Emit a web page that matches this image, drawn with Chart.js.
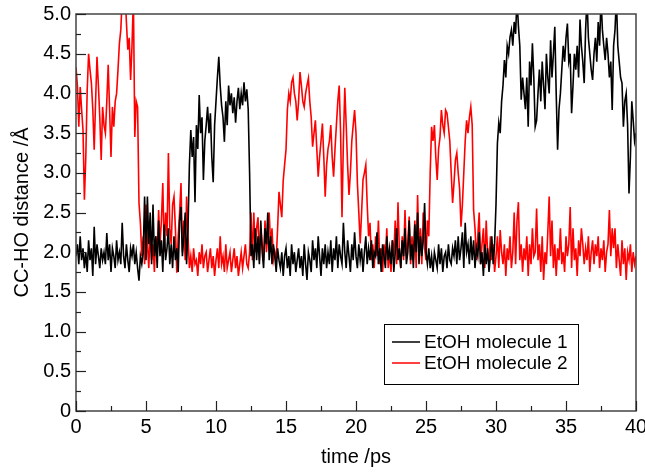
<!DOCTYPE html>
<html>
<head>
<meta charset="utf-8">
<script src="https://cdn.jsdelivr.net/npm/chart.js@4.4.1/dist/chart.umd.min.js"></script>
<style>
  html, body { margin: 0; padding: 0; background: #fff; }
  #wrap { width: 645px; height: 472px; }
</style>
</head>
<body>
<div id="wrap"><canvas id="c" width="645" height="472"></canvas></div>
<script>
// time step 0.1 ps, 0..40 ps
const timeStep = 0.1;
const seriesLabels = ['EtOH molecule 1', 'EtOH molecule 2'];
const seriesColors = ['#000000', '#ff0000'];
const xTicks = [0, 5, 10, 15, 20, 25, 30, 35, 40];
const yTicks = [0, 0.5, 1.0, 1.5, 2.0, 2.5, 3.0, 3.5, 4.0, 4.5, 5.0];

// CC-HO distance, molecule 1 (one row per ps)
const molecule1 = [
  1.95,2.10,1.85,2.20,1.90,2.05,1.80,2.00,1.75,2.15,
  1.90,2.05,1.70,2.32,1.85,2.10,1.95,1.80,2.05,1.90,
  2.00,1.85,2.24,1.90,2.10,1.75,2.05,1.95,1.80,2.15,
  1.90,2.00,1.85,2.37,1.95,1.80,2.10,1.90,1.75,2.05,
  1.95,2.10,1.85,2.00,1.80,1.64,1.95,1.85,2.00,2.70,
  1.90,2.70,2.10,2.50,1.85,2.60,1.95,2.20,1.80,2.40,
  1.95,2.15,1.75,2.35,1.90,2.05,2.30,1.85,2.10,1.80,
  2.20,1.90,2.05,1.75,2.40,2.57,1.95,2.20,2.50,1.85,
  2.30,3.10,3.54,3.20,3.45,2.63,3.60,3.30,3.98,3.50,
  3.70,2.91,3.40,3.60,3.83,3.50,3.75,3.20,2.88,3.60,
  3.90,4.20,4.46,4.10,3.85,3.70,3.39,3.90,3.60,4.10,
  3.85,4.00,3.75,3.95,3.63,3.90,4.07,3.80,4.00,3.85,
  4.14,3.90,4.05,3.80,3.00,1.95,2.10,1.80,2.30,1.90,
  2.20,1.85,2.40,2.00,1.80,2.30,2.10,2.50,1.90,2.20,
  1.85,2.10,1.95,1.75,2.05,1.90,1.80,2.00,1.70,1.95,
  2.05,1.80,1.95,1.70,2.10,1.85,2.00,1.75,1.90,2.05,
  1.80,1.95,1.70,2.10,1.85,1.65,2.00,1.90,1.75,2.15,
  1.90,2.05,1.80,2.20,1.95,1.70,2.05,1.85,2.10,1.80,
  2.00,1.85,2.15,1.75,2.05,1.90,2.20,1.80,2.10,1.95,
  1.85,2.37,2.00,1.80,2.15,1.95,1.75,2.10,1.90,2.25,
  1.95,1.80,2.10,1.90,2.05,1.75,2.00,2.20,1.85,2.05,
  1.90,2.15,1.80,2.00,1.95,2.25,1.85,2.05,1.75,2.10,
  1.95,1.80,2.20,1.90,2.05,1.85,2.15,1.75,2.00,2.30,
  1.90,2.05,1.80,2.15,1.95,2.30,1.85,2.00,2.40,1.90,
  2.10,1.80,2.35,2.00,2.50,1.85,2.20,1.95,2.15,2.62,
  2.00,1.85,2.05,1.80,1.95,1.75,2.00,1.90,1.80,2.10,
  1.85,2.05,1.75,1.95,2.00,1.80,2.10,1.90,1.85,2.05,
  1.95,2.15,1.85,2.20,1.90,2.05,2.25,1.80,2.37,2.00,
  2.10,1.85,2.20,1.90,2.15,1.80,2.05,1.95,2.25,1.85,
  2.00,1.70,2.10,1.85,2.05,1.75,1.95,2.20,1.85,2.10,
  2.60,3.37,3.63,3.50,3.90,4.10,4.42,4.20,4.60,4.50,
  4.71,4.80,4.60,4.90,4.75,5.20,4.85,4.60,3.92,4.20,
  4.00,3.80,4.20,3.58,4.40,4.10,4.63,4.20,3.58,3.66,
  4.00,4.30,3.90,4.40,4.10,3.80,4.50,4.20,4.00,4.67,
  4.20,4.50,4.84,4.00,3.29,3.80,4.00,4.30,4.60,4.40,
  4.70,4.88,4.40,4.50,3.75,4.10,4.50,4.30,4.60,4.20,
  4.93,4.60,4.40,4.13,4.80,5.20,4.70,4.50,4.30,4.17,
  4.50,4.70,4.40,4.90,4.60,5.20,4.80,4.60,4.42,4.70,
  4.50,4.20,4.40,3.79,4.60,4.80,5.20,4.60,4.40,4.20,
  4.13,3.58,3.90,4.00,3.60,2.74,3.20,3.90,3.66,3.40,
  3.50
];

// CC-HO distance, molecule 2 (one row per ps)
const molecule2 = [
  4.33,4.10,3.58,4.08,3.80,3.54,2.66,3.20,4.04,4.50,
  4.30,4.13,3.80,3.29,3.90,4.46,4.10,3.70,3.16,3.83,
  3.60,3.50,3.90,4.36,3.80,3.20,3.83,3.58,3.90,4.00,
  4.30,4.63,4.80,5.20,5.10,5.30,4.90,4.55,4.70,4.17,
  4.60,5.20,3.45,3.90,3.83,2.62,2.37,1.95,2.20,1.85,
  2.60,2.10,1.80,2.30,1.90,2.10,1.75,2.20,1.95,2.53,
  2.10,2.40,2.87,2.00,2.50,2.20,3.25,2.30,2.10,2.60,
  2.70,2.30,1.74,2.20,2.50,2.87,2.00,2.40,1.90,2.70,
  2.20,1.80,1.95,1.75,2.05,1.85,1.90,1.70,2.00,1.85,
  2.10,1.80,1.95,2.00,1.75,1.90,2.05,1.80,1.95,1.70,
  1.90,2.05,1.80,2.20,1.85,1.95,1.75,2.10,1.80,1.90,
  2.00,1.75,1.90,2.05,1.80,1.95,1.70,1.85,2.00,1.80,
  1.95,2.10,1.85,1.80,2.00,2.50,1.90,2.50,2.00,2.30,
  2.44,1.90,2.30,2.10,1.90,2.40,2.00,2.20,2.50,2.10,
  2.30,1.90,2.00,1.90,2.30,2.76,2.60,2.44,2.90,3.10,
  3.29,3.80,4.00,3.90,4.14,4.20,4.00,3.90,3.66,3.90,
  4.27,4.10,3.90,3.83,4.00,4.10,4.19,3.90,3.70,3.33,
  3.50,3.66,3.30,2.95,3.20,3.40,3.62,3.20,2.70,3.10,
  3.30,3.40,3.60,3.20,2.95,3.30,3.60,3.90,4.10,3.50,
  2.44,3.40,4.07,3.60,3.10,2.72,3.00,3.40,3.60,3.79,
  3.50,2.87,2.50,2.11,2.50,2.91,3.00,3.10,2.60,2.20,
  2.37,1.90,2.10,1.80,2.20,1.95,2.40,1.85,2.05,1.75,
  2.10,1.90,2.30,1.80,2.00,1.75,2.15,1.95,2.40,1.85,
  2.63,2.00,1.80,2.20,1.90,2.53,1.95,2.10,2.45,1.85,
  2.20,1.90,2.40,1.80,2.72,2.00,2.30,1.85,2.50,2.05,
  1.90,2.40,2.20,3.00,3.58,3.40,3.60,3.20,2.91,3.30,
  3.45,3.79,3.60,3.50,3.79,3.75,3.58,3.40,3.00,2.62,
  2.87,3.16,3.25,3.00,2.80,2.32,2.60,3.00,3.40,3.66,
  3.50,3.70,3.83,3.60,2.53,2.30,1.90,2.20,2.50,1.85,
  2.10,2.30,1.80,2.40,2.00,1.85,2.20,1.90,2.10,1.75,
  1.95,2.20,1.80,2.28,2.00,1.85,2.10,1.70,2.05,1.90,
  2.20,1.80,2.00,2.50,1.85,2.40,2.63,1.90,2.10,1.75,
  2.05,1.90,2.20,1.70,2.10,1.85,2.30,1.95,2.00,2.55,
  1.90,2.10,1.75,2.20,1.65,2.00,1.85,2.25,2.70,1.95,
  2.40,1.80,2.10,1.70,2.05,1.90,2.30,1.85,2.00,1.75,
  2.20,1.95,2.10,2.57,1.80,2.30,1.90,2.05,1.70,2.15,
  1.95,2.30,2.10,1.85,2.05,1.90,2.20,1.75,2.00,2.15,
  1.85,2.10,1.95,2.20,1.80,2.05,1.90,2.15,1.75,2.00,
  2.10,2.53,1.95,2.30,2.05,2.30,1.80,2.10,1.90,1.70,
  2.15,1.85,2.05,1.65,2.00,1.90,2.10,1.75,2.00,1.85,
  1.95
];

const toPoints = arr => arr.map((v, i) => ({ x: +(i * timeStep).toFixed(1), y: v }));

const FONT = "'Liberation Sans', Arial, Helvetica, sans-serif";

// frame, inward ticks and boxed legend
const framePlugin = {
  id: 'frame',
  afterDatasetsDraw(chart) {
    const { ctx, chartArea: a, scales } = chart;
    ctx.save();
    ctx.strokeStyle = '#444';
    ctx.lineWidth = 1.5;
    ctx.strokeRect(a.left, a.top, a.right - a.left, a.bottom - a.top);

    ctx.lineWidth = 1.2;
    ctx.strokeStyle = '#222';
    for (let t = 0; t <= 40; t += 2.5) {
      const px = Math.round(scales.x.getPixelForValue(t)) + 0.5;
      const len = t % 5 === 0 ? 10 : 5;
      ctx.beginPath();
      ctx.moveTo(px, a.bottom);
      ctx.lineTo(px, a.bottom - len);
      ctx.stroke();
    }
    for (let v = 0; v <= 5.0001; v += 0.25) {
      const py = Math.round(scales.y.getPixelForValue(v)) + 0.5;
      const major = Math.abs(v * 2 - Math.round(v * 2)) < 1e-6;
      ctx.beginPath();
      ctx.moveTo(a.left, py);
      ctx.lineTo(a.left + (major ? 10 : 5), py);
      ctx.stroke();
    }

    // legend box
    const bx = 384, by = 324, bw = 194, bh = 60;
    ctx.fillStyle = '#fff';
    ctx.fillRect(bx, by, bw, bh);
    ctx.strokeStyle = '#000';
    ctx.lineWidth = 1;
    ctx.strokeRect(bx + 0.5, by + 0.5, bw, bh);
    ctx.font = '19px ' + FONT;
    ctx.textBaseline = 'middle';
    chart.data.datasets.forEach((ds, i) => {
      const y = by + 18 + i * 21;
      ctx.strokeStyle = ds.borderColor;
      ctx.lineWidth = 1.5;
      ctx.beginPath();
      ctx.moveTo(bx + 8, y);
      ctx.lineTo(bx + 36, y);
      ctx.stroke();
      ctx.fillStyle = '#000';
      ctx.fillText(ds.label, bx + 40, y + 1);
    });
    ctx.restore();
  }
};

new Chart(document.getElementById('c'), {
  type: 'line',
  data: {
    datasets: [
      {
        label: seriesLabels[0],
        data: toPoints(molecule1),
        borderColor: seriesColors[0],
        borderWidth: 1.6,
        pointRadius: 0,
        tension: 0,
      },
      {
        label: seriesLabels[1],
        data: toPoints(molecule2),
        borderColor: seriesColors[1],
        borderWidth: 1.6,
        pointRadius: 0,
        tension: 0,
      },
    ],
  },
  options: {
    responsive: false,
    animation: false,
    layout: { padding: { top: 14, right: 9, left: 0, bottom: 0 } },
    plugins: {
      legend: { display: false },
      tooltip: { enabled: false },
    },
    scales: {
      x: {
        type: 'linear',
        min: 0,
        max: 40,
        grid: { display: false, drawTicks: false },
        border: { display: false },
        afterBuildTicks: s => { s.ticks = xTicks.map(v => ({ value: v })); },
        ticks: {
          color: '#000',
          font: { family: FONT, size: 20 },
          padding: 4,
          maxRotation: 0,
          autoSkip: false,
          callback: v => String(v),
        },
        title: {
          display: true,
          text: 'time /ps',
          color: '#000',
          font: { family: FONT, size: 20 },
          padding: { top: 0, bottom: 3 },
        },
        afterFit: s => { s.height = 61; s.paddingLeft = 0; s.paddingRight = 0; },
      },
      y: {
        min: 0,
        max: 5,
        grid: { display: false, drawTicks: false },
        border: { display: false },
        afterBuildTicks: s => { s.ticks = yTicks.map(v => ({ value: v })); },
        ticks: {
          color: '#000',
          font: { family: FONT, size: 20 },
          padding: 5,
          autoSkip: false,
          callback: v => (v === 0 ? '0' : v.toFixed(1)),
        },
        title: {
          display: true,
          text: 'CC-HO distance /Å',
          color: '#000',
          font: { family: FONT, size: 20 },
          padding: { top: 10, bottom: 0 },
        },
        afterFit: s => { s.width = 76; s.paddingTop = 0; s.paddingBottom = 0; },
      },
    },
  },
  plugins: [framePlugin],
});
</script>
</body>
</html>
